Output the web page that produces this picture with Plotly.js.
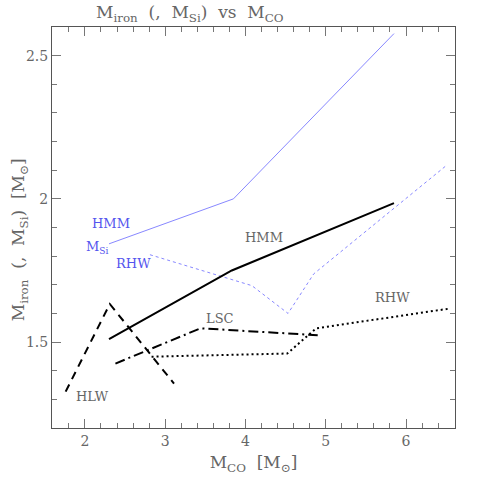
<!DOCTYPE html>
<html>
<head>
<meta charset="utf-8">
<script src="https://cdn.plot.ly/plotly-3.0.1.min.js"></script>
<style>
  html,body{margin:0;padding:0;background:#fff;}
  #chart{width:480px;height:480px;}
</style>
</head>
<body>
<div id="chart"></div>
<script>
// M_CO vs M_iron (and M_Si) per model
const hmmSiX  = [2.30, 3.85, 5.85];
const hmmSiY  = [1.843, 2.00, 2.577];
const rhwSiX  = [2.81, 4.08, 4.53, 4.85, 6.50];
const rhwSiY  = [1.805, 1.697, 1.600, 1.738, 2.116];
const hmmX    = [2.30, 3.83, 5.85];
const hmmY    = [1.510, 1.750, 1.985];
const hlwX    = [1.76, 2.31, 3.11];
const hlwY    = [1.327, 1.633, 1.355];
const lscX    = [2.38, 3.44, 4.90];
const lscY    = [1.425, 1.548, 1.524];
const rhwX    = [2.83, 4.52, 4.88, 6.52];
const rhwY    = [1.449, 1.460, 1.548, 1.616];

const gray = '#666';
const blue = '#8888ff';
const blueText = '#5555ee';
const serif = 'DejaVu Serif, Liberation Serif, serif';

const traces = [
  {x:hmmSiX, y:hmmSiY, mode:'lines', line:{color:blue, width:1}},
  {x:rhwSiX, y:rhwSiY, mode:'lines', line:{color:blue, width:1, dash:'dot'}},
  {x:hmmX, y:hmmY, mode:'lines', line:{color:'#000', width:2}},
  {x:hlwX, y:hlwY, mode:'lines', line:{color:'#000', width:2, dash:'8px,6px'}},
  {x:lscX, y:lscY, mode:'lines', line:{color:'#000', width:2, dash:'10px,4px,2px,4px'}},
  {x:rhwX, y:rhwY, mode:'lines', line:{color:'#000', width:2, dash:'2px,3px'}},
];

function lab(x, y, text, color){
  return {x:x, y:y, text:text, showarrow:false, font:{family:serif, size:13, color:color}};
}

const axisBase = {
  showline:true, linecolor:'#555', linewidth:1, mirror:'allticks',
  ticks:'inside', ticklen:9, tickcolor:'#777', showgrid:false, zeroline:false,
  tickfont:{family:serif, size:14, color:gray},
};

const layout = {
  width:480, height:480,
  margin:{l:52, r:25, t:27, b:52},
  paper_bgcolor:'#fff', plot_bgcolor:'#fff',
  showlegend:false,
  font:{family:serif, color:gray},
  title:{
    text:'M<sub>iron</sub>  (,  M<sub>Si</sub>)  vs  M<sub>CO</sub>',
    font:{family:serif, size:17, color:gray},
    x:0.2, xanchor:'left', y:0.975, yanchor:'middle'
  },
  xaxis:Object.assign({}, axisBase, {
    range:[1.59, 6.61], tickvals:[2,3,4,5,6],
    minor:{ticks:'inside', dtick:0.2, tick0:0, ticklen:5, tickcolor:'#777'},
    title:{text:'M<sub>CO</sub>  [M<sub>⊙</sub>]', font:{family:serif, size:17, color:gray}, standoff:8}
  }),
  yaxis:Object.assign({}, axisBase, {
    range:[1.2, 2.6], tickvals:[1.5,2,2.5], ticktext:['1.5','2','2.5'],
    minor:{ticks:'inside', dtick:0.1, tick0:0, ticklen:5, tickcolor:'#777'}
  }),
  annotations:[
    {xref:'paper', yref:'paper', x:-0.08, y:0.47, xanchor:'center', yanchor:'middle',
     textangle:-90, showarrow:false,
     text:'M<sub>iron</sub>  (,  M<sub>Si</sub>)  [M<sub>⊙</sub>]',
     font:{family:serif, size:17, color:gray}},
    lab(2.32, 1.915, 'HMM', blueText),
    lab(2.16, 1.830, 'M<sub>Si</sub>', blueText),
    lab(2.61, 1.776, 'RHW', blueText),
    lab(4.23, 1.864, 'HMM', gray),
    lab(3.68, 1.583, 'LSC', gray),
    lab(5.83, 1.654, 'RHW', gray),
    lab(2.09, 1.310, 'HLW', gray),
  ]
};

Plotly.newPlot('chart', traces, layout, {displayModeBar:false, staticPlot:true});
</script>
</body>
</html>
